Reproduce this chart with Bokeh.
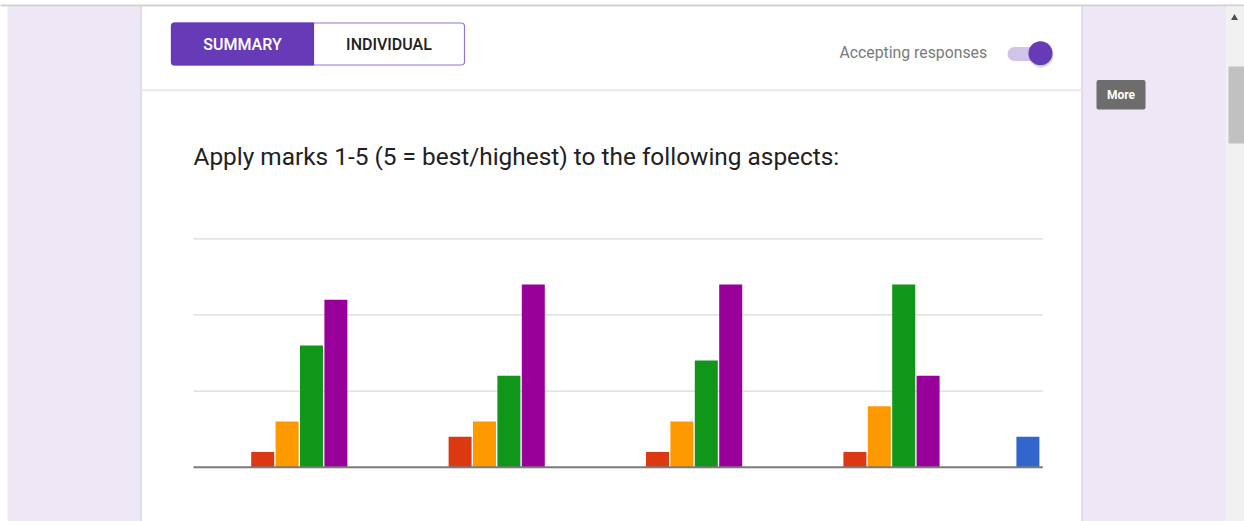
from bokeh.plotting import figure
from bokeh.models import Range1d, ColumnDataSource
from bokeh.transform import dodge
from bokeh.core.properties import value
from bokeh.embed import file_html
from bokeh.resources import INLINE

# ---------------- data ----------------
aspects = ["Aspect 1", "Aspect 2", "Aspect 3", "Aspect 4", "Aspect 5"]
marks = ["1", "2", "3", "4", "5"]
mark_1 = [0, 0, 0, 0, 2]
mark_2 = [1, 2, 1, 1, 0]
mark_3 = [3, 3, 3, 4, 0]
mark_4 = [8, 6, 7, 12, 0]
mark_5 = [11, 12, 12, 6, 0]
y_ticks = [0, 5, 10, 15]
title_text = "Apply marks 1-5 (5 = best/highest) to the following aspects:"

# ---------------- layout (page pixels) ----------------
PAGE_L, PAGE_R, PAGE_T, PAGE_B = 0, 1244, 0, 521
W, H = PAGE_R - PAGE_L, PAGE_B - PAGE_T
G0_CENTER = 286.6      # centre of first group
G_PITCH = 197.4        # group spacing
B_PITCH = 24.4         # bar spacing within a group
B_WIDTH = 23.0
BASE_Y = 466.7         # value 0
PX_PER_UNIT = 228.4 / 15.0
CHART_L, CHART_R = 193.0, 1042.3

colors = ["#3366cc", "#dc3912", "#ff9900", "#109618", "#990099"]
series_cols = ["m1", "m2", "m3", "m4", "m5"]

p = figure(width=W, height=H,
           x_range=Range1d(PAGE_L, PAGE_R), y_range=Range1d(PAGE_B, PAGE_T),
           x_axis_type=None, y_axis_type=None,
           toolbar_location=None, output_backend="svg",
           min_border=0, outline_line_color=None,
           background_fill_color="white", border_fill_color="white")
p.grid.visible = False

p.extra_x_ranges = {"grp": Range1d((PAGE_L - G0_CENTER) / G_PITCH,
                                   (PAGE_R - G0_CENTER) / G_PITCH)}
p.extra_y_ranges = {"cnt": Range1d(-(PAGE_B - BASE_Y) / PX_PER_UNIT,
                                   (BASE_Y - PAGE_T) / PX_PER_UNIT)}

LAV = "#ede7f6"
# side panels
p.quad(left=[7, 1082], right=[140, 1226], top=[6, 6],
       bottom=[PAGE_B, PAGE_B], fill_color=LAV, line_color=None)
# top rule
p.segment(x0=[0], x1=[PAGE_R], y0=[5], y1=[5], line_color="#d2d2d2", line_width=2)
# scrollbar
p.quad(left=[1226], right=[1244], top=[6], bottom=[PAGE_B],
       fill_color="#f1f1f1", line_color=None)
p.quad(left=[1228], right=[1244], top=[66], bottom=[143],
       fill_color="#c1c1c1", line_color=None)
p.scatter(x=[1234], y=[17.5], marker="triangle", size=7,
          fill_color="#505050", line_color=None)
# card edges
p.segment(x0=[140.5, 1081.5], x1=[140.5, 1081.5], y0=[6, 6],
          y1=[PAGE_B, PAGE_B], line_color="#d9d5e0", line_width=1.5)
# header divider
p.segment(x0=[141], x1=[1081], y0=[89.5], y1=[89.5],
          line_color="#ebebeb", line_width=2)
p.segment(x0=[141], x1=[1081], y0=[91], y1=[91],
          line_color="#f6f6f6", line_width=1.5)

# tabs
p.quad(left=[171], right=[464], top=[22.5], bottom=[64.5],
       fill_color="white", line_color="#9575cd", line_width=1.2, border_radius=3)
p.quad(left=[171], right=[313], top=[22.5], bottom=[64.5],
       fill_color="#673ab7", line_color="#673ab7", line_width=1.2,
       border_radius=(3, 0, 0, 3))
p.text(x=[242, 388.5], y=[44, 44], text=["SUMMARY", "INDIVIDUAL"],
       text_color=["white", "#212121"], text_font=value("'Roboto Medium', Roboto"),
       text_font_size="16px", text_align="center", text_baseline="middle")

# accepting responses + toggle
p.text(x=[839], y=[51.5], text=["Accepting responses"], text_color="#7a7a7a",
       text_font=value("Roboto"), text_font_size="15.8px",
       text_align="left", text_baseline="middle")
p.quad(left=[1007], right=[1047], top=[46.5], bottom=[60.5],
       fill_color="#d1c4e9", line_color=None, border_radius=7)
p.scatter(x=[1040.5], y=[54.5], marker="circle", size=25,
          fill_color="black", fill_alpha=0.15, line_color=None)
p.scatter(x=[1040], y=[52.7], marker="circle", size=24,
          fill_color="#673ab7", line_color=None)

# More button
p.quad(left=[1096], right=[1145], top=[79.5], bottom=[109],
       fill_color="#6d6d6d", line_color=None, border_radius=2)
p.text(x=[1120.5], y=[94.5], text=["More"], text_color="white",
       text_font=value("Roboto"), text_font_style="bold", text_font_size="12px",
       text_align="center", text_baseline="middle")

# title
p.text(x=[193], y=[156], text=[title_text], text_color="#212121",
       text_font=value("Roboto"), text_font_size="24.4px",
       text_align="left", text_baseline="middle")

# ---------------- chart ----------------
p.segment(x0=[CHART_L] * (len(y_ticks) - 1), x1=[CHART_R] * (len(y_ticks) - 1),
          y0=y_ticks[1:], y1=y_ticks[1:], y_range_name="cnt",
          line_color="#d9d9d9", line_width=1.2)

src = ColumnDataSource(dict(idx=list(range(len(aspects))),
                            m1=mark_1, m2=mark_2, m3=mark_3, m4=mark_4, m5=mark_5))
n = len(series_cols)
for j, (col, c) in enumerate(zip(series_cols, colors)):
    off = (j - (n - 1) / 2) * B_PITCH / G_PITCH
    p.vbar(x=dodge("idx", off), top=col, bottom=0, width=B_WIDTH / G_PITCH,
           source=src, fill_color=c, line_color=None,
           x_range_name="grp", y_range_name="cnt")

p.segment(x0=[CHART_L], x1=[CHART_R], y0=[y_ticks[0]], y1=[y_ticks[0]],
          y_range_name="cnt", line_color="#7a7a7a", line_width=2)

open("out.html", "w").write(file_html(p, INLINE))
